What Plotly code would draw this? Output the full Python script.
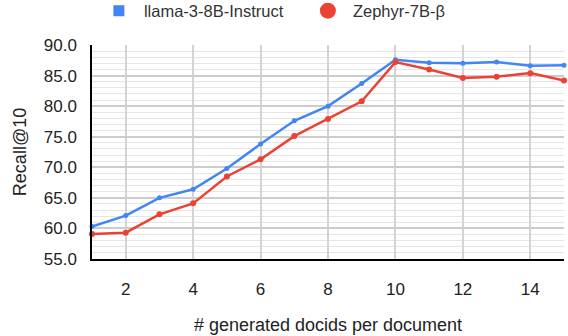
import plotly.graph_objects as go

# docids per document
n_docids = list(range(1, 16))

llama_recall = [60.3, 62.1, 65.0, 66.4, 69.8, 73.8, 77.6, 80.0, 83.7, 87.6,
                87.1, 87.0, 87.2, 86.6, 86.7]
zephyr_recall = [59.1, 59.3, 62.3, 64.1, 68.5, 71.3, 75.1, 77.9, 80.8, 87.2,
                 86.0, 84.6, 84.8, 85.4, 84.2]

BLUE = '#4285F4'
RED = '#EA4335'
FONT = 'Liberation Sans'

fig = go.Figure()

# lines (legend drawn with separate marker-only entries)
fig.add_trace(go.Scatter(
    x=n_docids, y=llama_recall, mode='lines+markers',
    line=dict(color=BLUE, width=2.5), marker=dict(size=5, color=BLUE),
    showlegend=False, cliponaxis=False
))
fig.add_trace(go.Scatter(
    x=n_docids, y=zephyr_recall, mode='lines+markers',
    line=dict(color=RED, width=2.5), marker=dict(size=6, color=RED),
    showlegend=False, cliponaxis=False
))

fig.add_trace(go.Scatter(
    x=[None], y=[None], mode='markers', name='llama-3-8B-Instruct',
    marker=dict(symbol='square', size=11, color=BLUE)
))
fig.add_trace(go.Scatter(
    x=[None], y=[None], mode='markers', name='Zephyr-7B-β',
    marker=dict(symbol='circle', size=19, color=RED)
))

fig.update_layout(
    width=568, height=336,
    margin=dict(l=92, r=4, t=45, b=77, autoexpand=False),
    plot_bgcolor='white', paper_bgcolor='white',
    font=dict(family=FONT, size=17, color='#222222'),
    legend=dict(orientation='h', x=0.004, xanchor='left', y=1.159, yanchor='middle',
                font=dict(family=FONT, size=16.5, color='#333333'), itemwidth=40,
                entrywidth=154, entrywidthmode='pixels',
                bgcolor='rgba(0,0,0,0)'),
    xaxis=dict(
        title=dict(text='# generated docids per document', standoff=20,
                   font=dict(family=FONT, size=18, color='#222222')),
        range=[1, 15], tickvals=[2, 4, 6, 8, 10, 12, 14],
        showgrid=True, gridcolor='#d4d4d4', gridwidth=1.5,
        showline=True, linecolor='black', linewidth=1.5,
        zeroline=False, ticks='outside', ticklen=14, tickcolor='rgba(0,0,0,0)',
    ),
    yaxis=dict(
        title=dict(text='Recall@10', standoff=12,
                   font=dict(family=FONT, size=18, color='#222222')),
        range=[55, 90], dtick=5, tickformat='.1f',
        showgrid=True, gridcolor='#cccccc', gridwidth=1.5,
        minor=dict(dtick=1, showgrid=True, gridcolor='#e6e6e6', gridwidth=1),
        showline=True, linecolor='black', linewidth=1.5,
        zeroline=False, ticks='outside', ticklen=10, tickcolor='rgba(0,0,0,0)',
    ),
)

# drop the default page margin so the figure sits at the window's corner
fig.write_html("out.html", config={'displayModeBar': False},
               post_script="document.body.style.margin='0';")
